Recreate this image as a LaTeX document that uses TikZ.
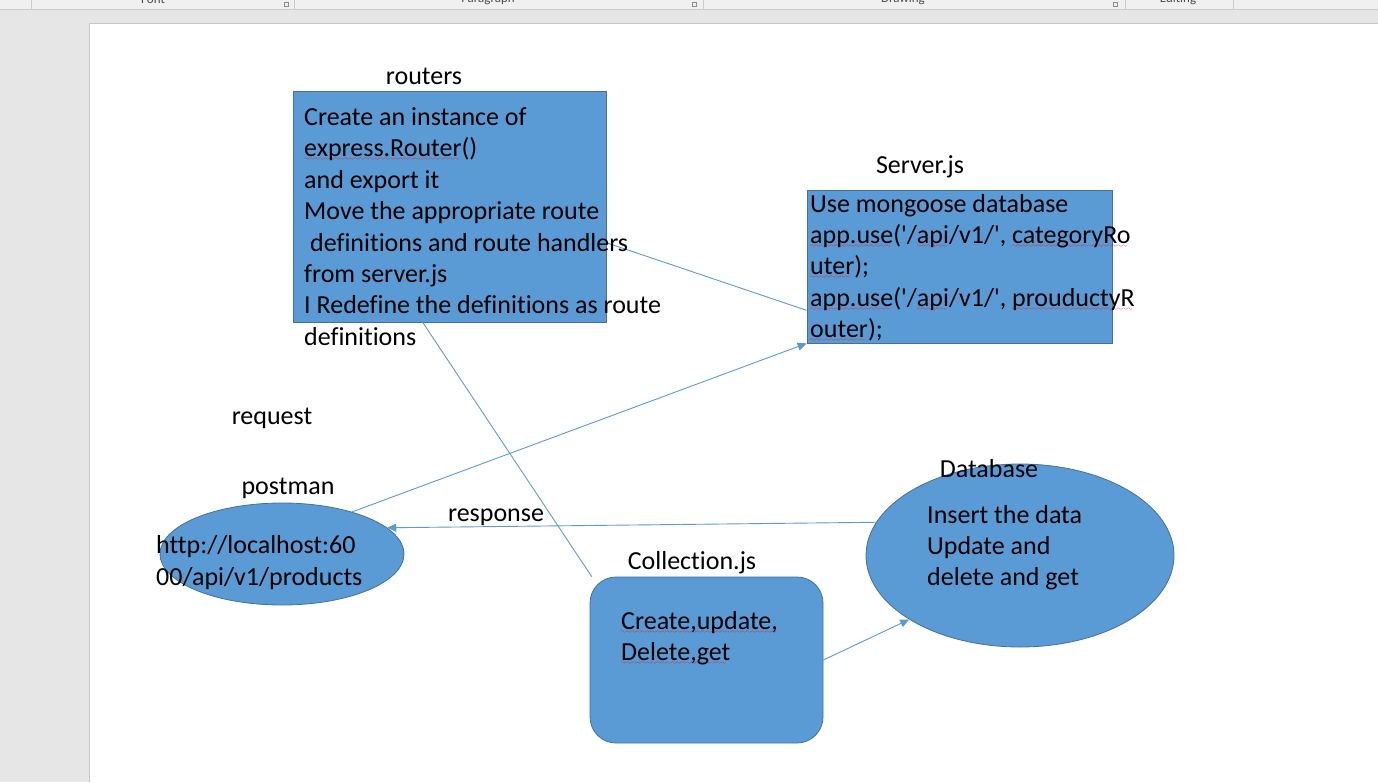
\documentclass[tikz,border=0pt]{standalone}
\usepackage{fontspec}
\newfontfamily\calib{Carlito}[Ligatures=NoCommon]
\usetikzlibrary{arrows.meta,shapes.geometric}

\definecolor{shapeblue}{HTML}{5B9BD5}
\definecolor{shapeedge}{HTML}{41719C}
\definecolor{ribbongray}{HTML}{F0F0F0}
\definecolor{backgray}{HTML}{E6E6E6}

\font\wavefont=lasy6
\newsavebox{\squigbox}
\newcommand{\squig}[1]{\sbox{\squigbox}{#1}\rlap{\textcolor{red}{\lower4pt\hbox to\wd\squigbox{\wavefont\leaders\hbox{\char58}\hfil}}}\usebox{\squigbox}}

\tikzset{
  shapebox/.style={draw=shapeedge,fill=shapeblue,line width=.8pt,inner sep=0pt},
  shapetxt/.style={font=\calib\fontsize{26}{31.4}\selectfont,align=left,anchor=base west,inner sep=0pt},
  lbl/.style={font=\calib\fontsize{26}{31.4}\selectfont,inner sep=0pt},
  link/.style={draw=shapeblue,line width=.9pt},
  linkarrow/.style={link,-{Triangle[length=9pt,width=8pt]}},
  ribbontxt/.style={font=\calib\fontsize{13}{15}\selectfont,text=black!70,inner sep=0pt}
}

\begin{document}
\begin{tikzpicture}[x=1pt,y=-1pt]
\useasboundingbox (0,0) rectangle (1378,782);
\fill[backgray] (0,0) rectangle (1378,782);
\fill[ribbongray] (0,0) rectangle (1378,9);
\draw[black!20] (0,9.5) -- (1378,9.5);
\begin{scope}
  \clip (0,0) rectangle (1378,9);
  \node[ribbontxt] (fonttab) at (153,-1) {Font};
  \node[ribbontxt] (paratab) at (488,-1) {Paragraph};
  \node[ribbontxt] (drawtab) at (903,-1) {Drawing};
  \node[ribbontxt] (edittab) at (1178,-1) {Editing};
  \foreach \x in {31,294,703,1125,1233} \draw[black!20] (\x,0) -- (\x,9);
  \foreach \x in {284,692,1113} \draw[black!45,line width=.6pt] (\x,2) rectangle (\x+4,6);
\end{scope}
\fill[white] (89,23) rectangle (1378,782);
\draw[black!22] (89,782) -- (89,23) -- (1378,23);

\node[shapebox,minimum width=313pt,minimum height=231pt] (routersbox) at (449.5,206.5) {};
\node[shapebox,minimum width=305pt,minimum height=153pt] (serverbox) at (959.5,266.5) {};
\node[shapebox,ellipse,minimum width=244pt,minimum height=102pt] (postman) at (282,554) {};
\node[shapebox,rounded corners=26pt,minimum width=233pt,minimum height=166pt] (collection) at (706.5,660) {};
\node[shapebox,ellipse,minimum width=308pt,minimum height=183pt] (database) at (1020,555.5) {};

\draw[link] (routersbox.-13.8) -- (serverbox.196.5);
\draw[link] (routersbox.-103.4) -- (collection.144.1);
\draw[linkarrow] (postman.31) -- (serverbox.south west);
\draw[linkarrow] (database.167.9) -- (postman.14.2);
\draw[linkarrow] (collection.east) -- (database.210.6);

\node[lbl] (routerslbl) at (424,76) {routers};
\node[lbl] (serverlbl) at (920,167) {Server.js};
\node[lbl] (requestlbl) at (272,418) {request};
\node[lbl] (postmanlbl) at (288,488) {postman};
\node[lbl] (responselbl) at (496,517) {response};
\node[lbl] (collectionlbl) at (692,563) {Collection.js};
\node[lbl] (databaselbl) at (989,469) {Database};

\node[shapetxt] (routerstxt) at (304,345.3) {Create an instance of\\
  \squig{express.Router}()\\
  and export it\\
  Move the appropriate route\\
  \hspace{6pt}definitions and route handlers\\
  from server.js\\
  I Redefine the definitions as route\\
  definitions};
\node[shapetxt] (servertxt) at (810,337.6) {Use mongoose database\\
  \squig{app.use}('/\squig{api}/v1/', \squig{categoryRo}\\
  \squig{uter});\\
  \squig{app.use}('/\squig{api}/v1/', \squig{prouductyR}\\
  \squig{outer});};
\node[shapetxt] (postmantxt) at (156,585) {http://localhost:60\\
  00/api/v1/products};
\node[shapetxt] (collectiontxt) at (621,660.4) {\squig{Create,update,}\\
  \squig{Delete,get}};
\node[shapetxt] (databasetxt) at (927,585.8) {Insert the data\\
  Update and\\
  delete and get};
\end{tikzpicture}
\end{document}
